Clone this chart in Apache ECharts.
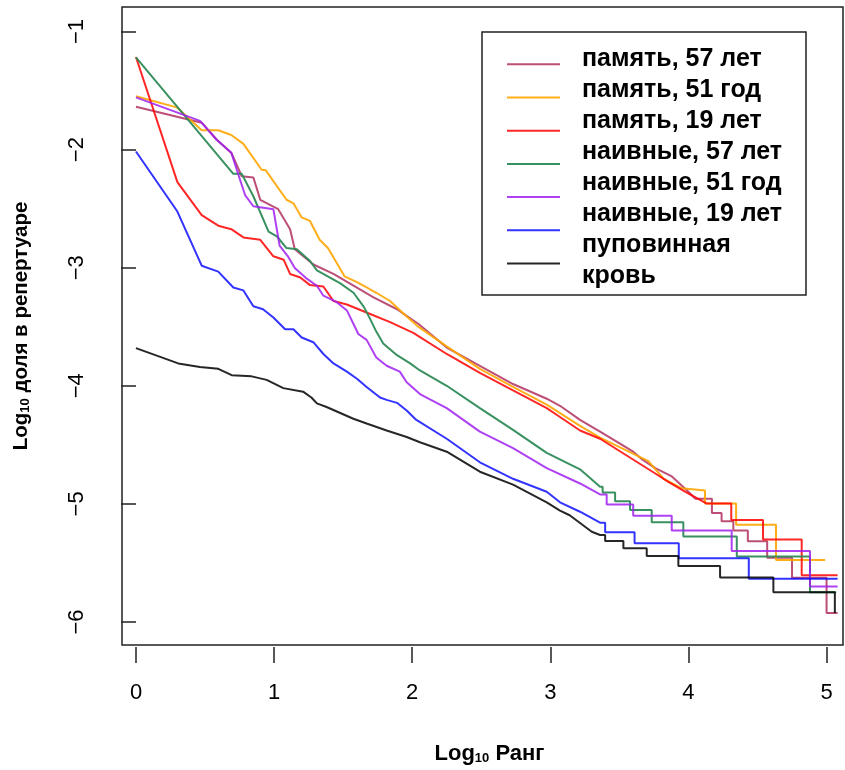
<!DOCTYPE html>
<html><head><meta charset="utf-8">
<script src="https://cdn.jsdelivr.net/npm/echarts@6/dist/echarts.min.js"></script>
<style>html,body{margin:0;padding:0;background:#fff}#c{width:845px;height:770px}</style>
</head><body><div id="c"></div>
<script>
// ---- data (x = log10 rank, y = log10 fraction) ----
const seriesNames = ['память, 57 лет','память, 51 год','память, 19 лет','наивные, 57 лет','наивные, 51 год','наивные, 19 лет','пуповинная\nкровь'];
const seriesColors = ['rgba(176,48,96,0.85)','rgba(255,165,0,0.9)','rgba(255,0,0,0.85)','rgba(46,139,87,0.95)','rgba(160,32,240,0.85)','rgba(0,0,255,0.8)','rgba(0,0,0,0.85)'];
const xTickValues = [0,1,2,3,4,5];
const yTickValues = [-6,-5,-4,-3,-2,-1];

const mem57 = [[0,-1.64],[0.476,-1.775],[0.585,-1.92],[0.69,-2.03],[0.766,-2.23],[0.85,-2.24],[0.90,-2.43],[1.03,-2.51],[1.116,-2.68],[1.15,-2.85],[1.285,-2.98],[1.43,-3.06],[1.575,-3.16],[1.72,-3.26],[1.89,-3.36],[2.046,-3.485],[2.25,-3.685],[2.49,-3.84],[2.73,-3.995],[2.974,-4.12],[3.07,-4.18],[3.215,-4.30],[3.36,-4.40],[3.60,-4.57],[3.67,-4.64],[3.76,-4.71],[3.88,-4.78],[3.99,-4.90],[4.05,-4.97],[4.17,-4.97],[4.17,-5.09],[4.24,-5.09],[4.24,-5.16],[4.325,-5.16],[4.325,-5.24],[4.43,-5.24],[4.43,-5.33],[4.57,-5.33],[4.57,-5.47],[4.75,-5.47],[4.75,-5.64],[5.0,-5.64],[5.0,-5.94],[5.08,-5.94]];
const mem51 = [[0,-1.55],[0.295,-1.645],[0.476,-1.84],[0.596,-1.84],[0.69,-1.88],[0.778,-1.955],[0.91,-2.175],[0.94,-2.18],[1.09,-2.43],[1.14,-2.46],[1.20,-2.58],[1.26,-2.61],[1.33,-2.77],[1.39,-2.84],[1.51,-3.08],[1.60,-3.13],[1.67,-3.175],[1.74,-3.22],[1.84,-3.29],[1.94,-3.40],[2.046,-3.51],[2.25,-3.675],[2.49,-3.866],[2.73,-4.02],[2.974,-4.17],[3.215,-4.35],[3.36,-4.45],[3.71,-4.65],[3.82,-4.80],[3.95,-4.88],[4.12,-4.90],[4.12,-5.01],[4.345,-5.01],[4.345,-5.19],[4.634,-5.19],[4.634,-5.49],[4.99,-5.49]];
const mem19 = [[0,-1.217],[0.30,-2.28],[0.476,-2.56],[0.596,-2.65],[0.69,-2.68],[0.778,-2.75],[0.90,-2.77],[0.995,-2.91],[1.07,-2.94],[1.116,-3.06],[1.19,-3.09],[1.26,-3.155],[1.357,-3.167],[1.43,-3.29],[1.527,-3.32],[1.696,-3.40],[1.84,-3.47],[2.008,-3.56],[2.25,-3.74],[2.49,-3.90],[2.73,-4.05],[2.974,-4.20],[3.07,-4.275],[3.215,-4.39],[3.36,-4.46],[3.76,-4.755],[3.855,-4.826],[3.975,-4.91],[4.13,-5.01],[4.31,-5.01],[4.31,-5.15],[4.54,-5.15],[4.54,-5.315],[4.82,-5.315],[4.82,-5.62],[5.08,-5.62]];
const naive57 = [[0,-1.22],[0.705,-2.21],[0.766,-2.21],[0.85,-2.40],[0.96,-2.70],[1.02,-2.74],[1.09,-2.84],[1.165,-2.85],[1.26,-2.95],[1.31,-3.03],[1.48,-3.14],[1.575,-3.22],[1.65,-3.34],[1.694,-3.44],[1.74,-3.55],[1.79,-3.65],[1.89,-3.75],[1.985,-3.82],[2.056,-3.88],[2.25,-4.01],[2.49,-4.20],[2.73,-4.385],[2.974,-4.58],[3.215,-4.72],[3.36,-4.868],[3.379,-4.868],[3.379,-4.916],[3.469,-4.916],[3.469,-4.99],[3.577,-4.99],[3.577,-5.066],[3.734,-5.066],[3.734,-5.17],[3.963,-5.17],[3.963,-5.29],[4.35,-5.29],[4.35,-5.46],[4.88,-5.46],[4.88,-5.763],[5.07,-5.763]];
const naive51 = [[0,-1.56],[0.464,-1.76],[0.585,-1.92],[0.69,-2.03],[0.73,-2.175],[0.79,-2.39],[0.85,-2.485],[0.995,-2.51],[1.04,-2.82],[1.10,-2.91],[1.15,-3.01],[1.237,-3.10],[1.31,-3.16],[1.357,-3.245],[1.454,-3.30],[1.527,-3.37],[1.575,-3.485],[1.61,-3.57],[1.67,-3.62],[1.74,-3.77],[1.815,-3.84],[1.91,-3.89],[1.96,-3.98],[2.056,-4.08],[2.25,-4.20],[2.49,-4.40],[2.73,-4.54],[2.974,-4.71],[3.215,-4.84],[3.36,-4.933],[3.408,-4.933],[3.408,-5.018],[3.60,-5.018],[3.60,-5.114],[3.879,-5.114],[3.879,-5.24],[4.313,-5.24],[4.313,-5.413],[4.88,-5.413],[4.88,-5.715],[5.08,-5.715]];
const naive19 = [[0,-2.02],[0.30,-2.53],[0.476,-2.99],[0.596,-3.04],[0.705,-3.175],[0.778,-3.20],[0.85,-3.335],[0.92,-3.36],[0.995,-3.43],[1.08,-3.53],[1.14,-3.53],[1.20,-3.60],[1.284,-3.64],[1.357,-3.74],[1.43,-3.82],[1.527,-3.89],[1.60,-3.95],[1.67,-4.02],[1.767,-4.11],[1.815,-4.13],[1.89,-4.155],[1.96,-4.22],[2.03,-4.30],[2.25,-4.46],[2.49,-4.66],[2.73,-4.80],[2.974,-4.91],[3.07,-5.0],[3.215,-5.08],[3.36,-5.173],[3.397,-5.173],[3.397,-5.255],[3.61,-5.255],[3.61,-5.348],[3.93,-5.348],[3.93,-5.475],[4.437,-5.475],[4.437,-5.65],[5.08,-5.65]];
const cord = [[0,-3.69],[0.306,-3.82],[0.463,-3.85],[0.596,-3.866],[0.693,-3.92],[0.838,-3.93],[0.946,-3.96],[1.067,-4.03],[1.21,-4.06],[1.27,-4.11],[1.31,-4.16],[1.38,-4.19],[1.574,-4.29],[1.67,-4.33],[1.815,-4.39],[1.96,-4.445],[2.056,-4.49],[2.25,-4.57],[2.49,-4.74],[2.73,-4.85],[2.974,-5.0],[3.07,-5.07],[3.14,-5.11],[3.30,-5.25],[3.36,-5.278],[3.397,-5.278],[3.397,-5.329],[3.529,-5.329],[3.529,-5.39],[3.698,-5.39],[3.698,-5.456],[3.927,-5.456],[3.927,-5.54],[4.229,-5.54],[4.229,-5.638],[4.615,-5.638],[4.615,-5.763],[5.06,-5.763],[5.06,-5.94]];
const allData = [mem57, mem51, mem19, naive57, naive51, naive19, cord];

// ---- chart ----
const FONT = 'Liberation Sans, Arial, Helvetica, sans-serif';
const chart = echarts.init(document.getElementById('c'), null, {renderer:'canvas'});
// legend text vertical offsets (top, bottom padding) so text sits slightly above its line sample
const legendVPads = [[15.9,27.1],[13.8,29.2],[11.7,31.3],[9.6,33.4],[7.5,35.5],[5.4,37.6]];
const legendRich = {};
legendVPads.forEach((p,i)=>{ legendRich['r'+i] = {fontSize:25, fontWeight:'bold', fontFamily:FONT, color:'#000', lineHeight:31, padding:[p[0],0,p[1],0]}; });
const minusFmt = v => String(v).replace('-', '\u2212');

chart.setOption({
  animation: false,
  backgroundColor: '#fff',
  grid: [
    {left:122, right:2, top:7, bottom:123, show:true, borderColor:'#222', borderWidth:1.5, backgroundColor:'transparent'},
    {left:136, right:18.5, top:31.5, bottom:148}
  ],
  xAxis: [
    {gridIndex:0, type:'value', min:-0.101, max:5.119,
     axisLine:{show:false}, axisTick:{show:false}, axisLabel:{show:false}, splitLine:{show:false},
     name:'{a|Log}{b|10}{a| Ранг}', nameLocation:'middle', nameGap:98,
     nameTextStyle:{padding:[0,0,0,14], rich:{a:{fontSize:22,fontWeight:'bold',fontFamily:FONT,color:'#000'},b:{fontSize:13,fontWeight:'bold',fontFamily:FONT,color:'#000',verticalAlign:'bottom'}}}},
    {gridIndex:1, type:'value', min:xTickValues[0], max:xTickValues[xTickValues.length-1], interval:1, position:'bottom', offset:25,
     axisLine:{show:false}, axisTick:{show:true, length:16, lineStyle:{color:'#222', width:1.5}},
     axisLabel:{margin:35, fontSize:22, fontFamily:FONT, color:'#000', lineHeight:22}, splitLine:{show:false}}
  ],
  yAxis: [
    {gridIndex:0, type:'value', min:-6.212, max:-0.7926,
     axisLine:{show:false}, axisTick:{show:false}, axisLabel:{show:false}, splitLine:{show:false},
     name:'{a|Log}{b|10}{a| доля в репертуаре}', nameLocation:'middle', nameGap:90,
     nameTextStyle:{rich:{a:{fontSize:20.5,fontWeight:'bold',fontFamily:FONT,color:'#000'},b:{fontSize:13,fontWeight:'bold',fontFamily:FONT,color:'#000',verticalAlign:'bottom'}}}},
    {gridIndex:1, type:'value', min:yTickValues[0], max:yTickValues[yTickValues.length-1], interval:1, position:'left', offset:14,
     axisLine:{show:false}, axisTick:{show:true, length:15, lineStyle:{color:'#222', width:1.5}},
     axisLabel:{margin:34, rotate:90, fontSize:22, fontFamily:FONT, color:'#000', lineHeight:22, formatter:minusFmt}, splitLine:{show:false}}
  ],
  legend: {
    orient:'vertical', left:507, top:30.3, padding:0, itemGap:-34.8,
    itemWidth:53, itemHeight:2, icon:'rect', selectedMode:false,
    textStyle:{fontSize:25, fontWeight:'bold', fontFamily:FONT, color:'#000', lineHeight:31, padding:[0,0,0,17], rich:legendRich},
    formatter: name => { const i = seriesNames.indexOf(name); return i < legendVPads.length ? '{r'+i+'|'+name+'}' : name; },
    data: seriesNames.map((n,i)=> i < legendVPads.length ? {name:n} : {name:n, textStyle:{padding:[0.3,0,5.7,17]}})
  },
  graphic: [
    {type:'rect', shape:{x:482, y:32, width:324, height:263}, style:{fill:'none', stroke:'#222', lineWidth:1.5}, z:10}
  ],
  series: seriesNames.map((n,i)=>({
    name:n, type:'line', xAxisIndex:0, yAxisIndex:0, data:allData[i],
    showSymbol:false, symbol:'none', color:seriesColors[i],
    lineStyle:{width:2, color:seriesColors[i]}, itemStyle:{color:seriesColors[i]}
  }))
});
</script></body></html>
